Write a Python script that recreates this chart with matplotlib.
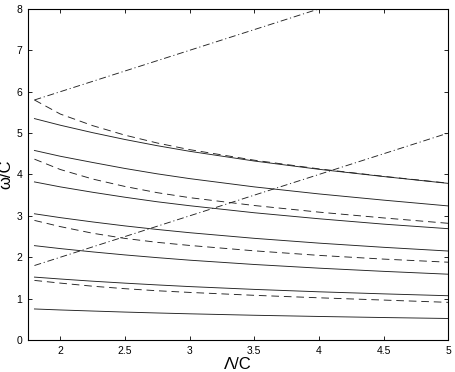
import numpy as np
import matplotlib
matplotlib.use("Agg")
import matplotlib.pyplot as plt

# Lambda/C sample points where curves were read
lam = [1.8, 2.0, 2.25, 2.5, 2.75, 3.0, 3.5, 4.0, 4.5, 5.0]

# Solid branches (omega/C)
solid_1 = [5.35, 5.19, 5.01, 4.845, 4.695, 4.56, 4.325, 4.125, 3.95, 3.785]
solid_2 = [4.58, 4.44, 4.29, 4.145, 4.015, 3.90, 3.70, 3.53, 3.38, 3.24]
solid_3 = [3.82, 3.70, 3.57, 3.45, 3.34, 3.245, 3.075, 2.93, 2.80, 2.69]
solid_4 = [3.05, 2.957, 2.853, 2.757, 2.671, 2.593, 2.457, 2.341, 2.24, 2.15]
solid_5 = [2.28, 2.209, 2.129, 2.056, 1.99, 1.929, 1.825, 1.736, 1.659, 1.59]
solid_6 = [1.52, 1.474, 1.421, 1.374, 1.331, 1.291, 1.223, 1.165, 1.115, 1.07]
solid_7 = [0.75, 0.726, 0.70, 0.675, 0.653, 0.633, 0.598, 0.569, 0.543, 0.52]

# Dashed branches
dashed_1 = [5.80, 5.46, 5.18, 4.95, 4.76, 4.60, 4.345, 4.135, 3.955, 3.79]
dashed_2 = [4.37, 4.12, 3.89, 3.71, 3.56, 3.44, 3.25, 3.09, 2.95, 2.82]
dashed_3 = [2.89, 2.74, 2.58, 2.455, 2.36, 2.285, 2.155, 2.045, 1.955, 1.88]
dashed_4 = [1.44, 1.375, 1.30, 1.24, 1.19, 1.15, 1.08, 1.02, 0.965, 0.91]

# Dash-dot boundary lines
upper_x = [1.8, 4.0]
upper_y = [5.8, 8.0]
lower_x = [1.8, 5.0]
lower_y = [1.8, 5.0]

plt.rcParams["font.family"] = ["Liberation Sans", "DejaVu Sans"]
plt.rcParams["lines.scale_dashes"] = False

fig = plt.figure(figsize=(4.55, 3.72), dpi=100)
ax = fig.add_axes([0.0615, 0.086, 0.9235, 0.89])

lw = 0.65
col = "#222222"
for ys in [solid_1, solid_2, solid_3, solid_4, solid_5, solid_6, solid_7]:
    ax.plot(lam, ys, color=col, lw=lw)
for ys in [dashed_1, dashed_2, dashed_3, dashed_4]:
    ax.plot(lam, ys, color=col, lw=lw, dashes=(5.5, 3.5))
for xs, ys in [(upper_x, upper_y), (lower_x, lower_y)]:
    ax.plot(xs, ys, color=col, lw=lw, dashes=(5, 2, 0.8, 2))

ax.set_xlim(1.75, 5)
ax.set_ylim(0, 8)
ax.set_xticks([2, 2.5, 3, 3.5, 4, 4.5, 5])
ax.set_xticklabels(["2", "2.5", "3", "3.5", "4", "4.5", "5"])
ax.set_yticks(range(9))
ax.tick_params(direction="in", length=3, width=0.6, labelsize=7.5,
               top=True, right=True, pad=4)
for s in ax.spines.values():
    s.set_linewidth(0.8)

ax.set_xlabel("Λ/C", fontsize=12, labelpad=1)
ax.set_ylabel("ω/C", fontsize=12, labelpad=2)

fig.savefig("out.png", dpi=100)
